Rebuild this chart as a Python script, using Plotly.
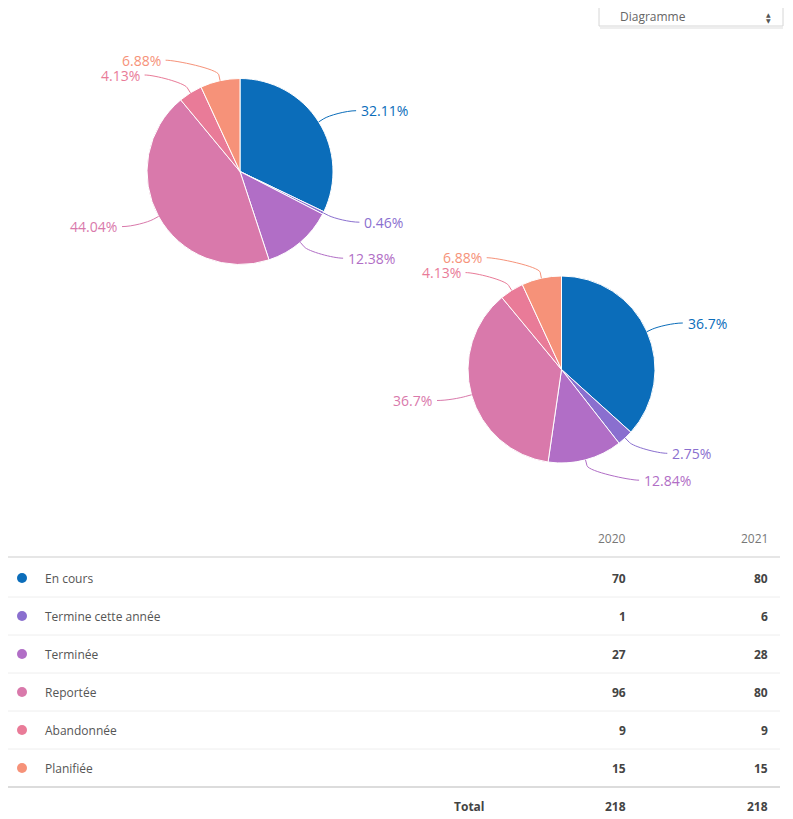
import math
import plotly.graph_objects as go

W, H = 793, 819
OFF = 8  # page body margin
FW, FH = W - 2 * OFF, H - OFF

categories = ["En cours", "Termine cette année", "Terminée", "Reportée", "Abandonnée", "Planifiée"]
colors = ["#0b6dba", "#8a6fcf", "#b16ec6", "#d979ab", "#e97b98", "#f69279"]
years = ["2020", "2021"]
values_2020 = [70, 1, 27, 96, 9, 15]
values_2021 = [80, 6, 28, 80, 9, 15]
dropdown_label = "Diagramme"
total_label = "Total"

FONT = "Open Sans"

pies = [
    dict(vals=values_2020, cx=240, cy=171.5, r=93),
    dict(vals=values_2021, cx=561.5, cy=369.5, r=93.5),
]

fig = go.Figure()
shapes = []
annotations = []


def pct_list(vals):
    """Percentages with 2 decimals summing to 100 (largest remainder)."""
    tot = sum(vals)
    raw = [v / tot * 10000 for v in vals]
    fl = [math.floor(x) for x in raw]
    rest = 10000 - sum(fl)
    order = sorted(range(len(vals)), key=lambda i: raw[i] - fl[i], reverse=True)
    for i in order[:rest]:
        fl[i] += 1
    return [("%.2f" % (f / 100)).rstrip("0").rstrip(".") + "%" for f in fl]


for p in pies:
    cx, cy, r = p["cx"], p["cy"], p["r"]
    vals = p["vals"]
    tot = sum(vals)
    texts = pct_list(vals)
    fig.add_trace(go.Pie(
        labels=categories, values=vals, sort=False, direction="clockwise", rotation=0,
        marker=dict(colors=colors, line=dict(color="white", width=1)),
        textinfo="none", hoverinfo="label+value+percent", showlegend=False,
        domain=dict(x=[(cx - r - OFF) / FW, (cx + r - OFF) / FW],
                    y=[1 - (cy + r - OFF) / FH, 1 - (cy - r - OFF) / FH]),
    ))
    cum = 0
    for v, col, txt in zip(vals, colors, texts):
        mid = (cum + v / 2) / tot * 2 * math.pi
        cum += v
        s, c = math.sin(mid), math.cos(mid)
        right = s >= 0
        sign = 1 if right else -1
        ly = cy - (r + 21) * c
        lx = cx + sign * (0.68 * r + 0.71 * r * abs(s))
        tx, ty = cx + r * s, cy - r * c
        bx, by = cx + (r + 6) * s, cy - (r + 6) * c
        b2x, b2y = cx + (r + 12) * s, cy - (r + 12) * c
        sx = lx - sign * 3
        path = (f"M {sx:.1f},{ly:.1f} C {sx - sign*10:.1f},{ly:.1f} {b2x:.1f},{b2y:.1f} {bx:.1f},{by:.1f} "
                f"L {tx:.1f},{ty:.1f}")
        shapes.append(dict(type="path", path=path, xref="x", yref="y",
                           line=dict(color=col, width=1)))
        annotations.append(dict(x=lx, y=ly, xref="x", yref="y", text=txt,
                                showarrow=False, xanchor="left" if right else "right", yanchor="middle",
                                font=dict(family=FONT, size=14, color=col)))

# table
row_y0, row_dy = 578, 38
col1_x, col2_x = 628, 770
header_y = 538
for yr, x in zip(years, [col1_x, col2_x]):
    annotations.append(dict(x=x, y=header_y, xref="x", yref="y", text=yr, showarrow=False,
                            xanchor="right", yanchor="middle",
                            font=dict(family=FONT, size=12, color="#777")))
shapes.append(dict(type="line", xref="x", yref="y", x0=6, x1=780, y0=557, y1=557,
                   line=dict(color="#e6e6e6", width=2)))
for i, (cat, col, a, b) in enumerate(zip(categories, colors, values_2020, values_2021)):
    y = row_y0 + i * row_dy
    shapes.append(dict(type="circle", xref="x", yref="y", x0=17, x1=27, y0=y - 5, y1=y + 5,
                       fillcolor=col, line=dict(width=0)))
    annotations.append(dict(x=43, y=y, xref="x", yref="y", text=cat, showarrow=False,
                            xanchor="left", yanchor="middle",
                            font=dict(family=FONT, size=12, color="#555")))
    for val, x in zip([a, b], [col1_x, col2_x]):
        annotations.append(dict(x=x, y=y, xref="x", yref="y", text=f"<b>{val}</b>", showarrow=False,
                                xanchor="right", yanchor="middle",
                                font=dict(family=FONT, size=12, color="#444")))
    sep_y = y + row_dy / 2
    last = i == len(categories) - 1
    shapes.append(dict(type="line", xref="x", yref="y", x0=6, x1=780, y0=sep_y, y1=sep_y,
                       line=dict(color="#dcdcdc" if last else "#eeeeee", width=2 if last else 1)))

total_y = row_y0 + len(categories) * row_dy
annotations.append(dict(x=487, y=total_y, xref="x", yref="y", text=f"<b>{total_label}</b>",
                        showarrow=False, xanchor="right", yanchor="middle",
                        font=dict(family=FONT, size=12, color="#444")))
for vals, x in zip([values_2020, values_2021], [col1_x, col2_x]):
    annotations.append(dict(x=x, y=total_y, xref="x", yref="y", text=f"<b>{sum(vals)}</b>",
                            showarrow=False, xanchor="right", yanchor="middle",
                            font=dict(family=FONT, size=12, color="#444")))

# dropdown box (top cut off like the reference)
shapes.append(dict(type="rect", xref="x", yref="y", x0=599, x1=783, y0=-6, y1=26,
                   fillcolor="white", line=dict(color="#d6d6d6", width=1), layer="below"))
shapes.append(dict(type="line", xref="x", yref="y", x0=600, x1=783, y0=28, y1=28,
                   line=dict(color="#eeeeee", width=2)))
annotations.append(dict(x=618, y=16.5, xref="x", yref="y", text=dropdown_label, showarrow=False,
                        xanchor="left", yanchor="middle",
                        font=dict(family=FONT, size=12, color="#666")))
annotations.append(dict(x=768, y=14, xref="x", yref="y", text="▲", showarrow=False,
                        xanchor="center", yanchor="middle", font=dict(family="DejaVu Sans", size=6, color="#555")))
annotations.append(dict(x=768, y=20, xref="x", yref="y", text="▼", showarrow=False,
                        xanchor="center", yanchor="middle", font=dict(family="DejaVu Sans", size=6, color="#555")))

fig.update_layout(
    width=FW, height=FH, margin=dict(l=0, r=0, t=0, b=0),
    paper_bgcolor="white", plot_bgcolor="white",
    xaxis=dict(range=[OFF, W - OFF], visible=False, fixedrange=True),
    yaxis=dict(range=[H, OFF], visible=False, fixedrange=True),
    shapes=shapes, annotations=annotations, showlegend=False,
)
fig.write_html("out.html")
